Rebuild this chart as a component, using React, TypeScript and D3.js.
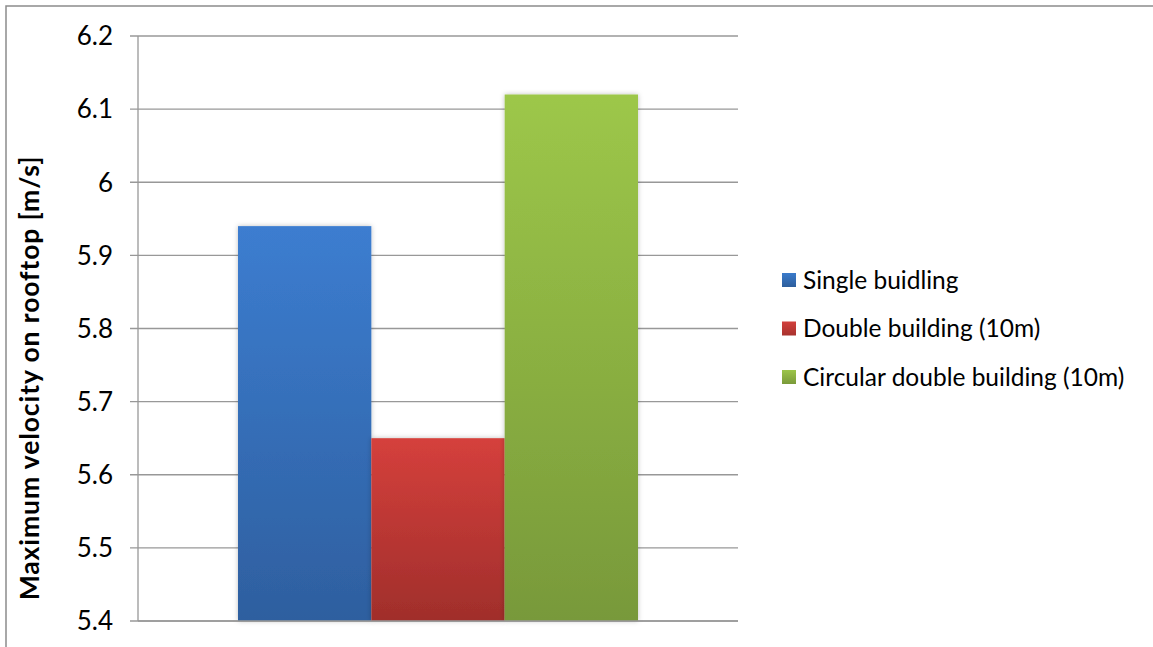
import React from "react";
import * as d3 from "d3";

const categories = [""];
const seriesNames = ["Single buidling", "Double building (10m)", "Circular double building (10m)"];
const seriesValues = [5.94, 5.65, 6.12];
const yTicks = [5.4, 5.5, 5.6, 5.7, 5.8, 5.9, 6, 6.1, 6.2];
const gradients = [
  ["#3c7dd0", "#2e5f9f"],
  ["#d5403c", "#a02e2b"],
  ["#9dc749", "#78993a"],
];
const legendColors = [
  ["#3a7bcb", "#2d5e9c"],
  ["#d2403c", "#a8322e"],
  ["#9cc549", "#7a9a3a"],
];

export default function App() {
  const W = 1153, H = 647;
  const left = 138, right = 738, top = 36, bottom = 621;
  const y = d3.scaleLinear().domain([5.4, 6.2]).range([bottom, top]);
  const x0 = d3.scaleBand().domain(categories).range([left, right]).paddingInner(0).paddingOuter(0);
  const bw = x0.bandwidth();
  const groupW = bw / (1 + 1.5 / 3);
  const x1 = d3.scaleBand().domain(seriesNames).range([0, groupW]).padding(0);
  const offset = x0("")! + (bw - groupW) / 2;
  const font = "Lato, 'Open Sans', sans-serif";

  return (
    <svg width={W} height={H} style={{ position: "absolute", left: 0, top: 0, background: "#fff" }}>
      <defs>
        {gradients.map((g, i) => (
          <linearGradient key={i} id={`g${i}`} x1="0" y1="0" x2="0" y2="1">
            <stop offset="0" stopColor={g[0]} />
            <stop offset="1" stopColor={g[1]} />
          </linearGradient>
        ))}
        {legendColors.map((g, i) => (
          <linearGradient key={i} id={`l${i}`} x1="0" y1="0" x2="0" y2="1">
            <stop offset="0" stopColor={g[0]} />
            <stop offset="1" stopColor={g[1]} />
          </linearGradient>
        ))}
        <filter id="sh" x="-10%" y="-10%" width="120%" height="120%">
          <feDropShadow dx="0" dy="0" stdDeviation="2.5" floodColor="#000" floodOpacity="0.25" />
        </filter>
      </defs>
      <rect x={6} y={6} width={W + 10} height={H + 10} fill="#fff" stroke="#8c8c8c" strokeWidth={1.5} />
      {yTicks.map((t) => (
        <g key={t}>
          <line x1={left - 8} x2={right} y1={y(t)} y2={y(t)} stroke="#989898" strokeWidth={1.3} />
          <text x={113} y={y(t)} dy="0.36em" textAnchor="end" fontFamily={font} fontSize={26} fill="#000">
            {d3.format("")(t)}
          </text>
        </g>
      ))}
      <line x1={left} x2={left} y1={top} y2={bottom} stroke="#989898" strokeWidth={1.3} />
      {seriesNames.map((s, i) => {
        const yv = y(seriesValues[i]);
        return (
          <rect key={s} x={offset + x1(s)!} y={yv} width={x1.bandwidth()} height={bottom - yv}
            fill={`url(#g${i})`} filter="url(#sh)" />
        );
      })}
      <line x1={left} x2={right} y1={bottom} y2={bottom} stroke="#989898" strokeWidth={1.3} />
      <text transform={`translate(39,378) rotate(-90)`} textAnchor="middle"
        fontFamily={font} fontWeight="bold" fontSize={26.5} letterSpacing={0.9} fill="#000">
        Maximum velocity on rooftop [m/s]
      </text>
      {seriesNames.map((s, i) => {
        const cy = 280 + i * 48.5;
        return (
          <g key={s}>
            <rect x={782} y={cy - 7} width={14} height={14} fill={`url(#l${i})`} />
            <text x={803} y={cy} dy="0.36em" fontFamily={font} fontSize={24.5} fill="#000">{s}</text>
          </g>
        );
      })}
    </svg>
  );
}
